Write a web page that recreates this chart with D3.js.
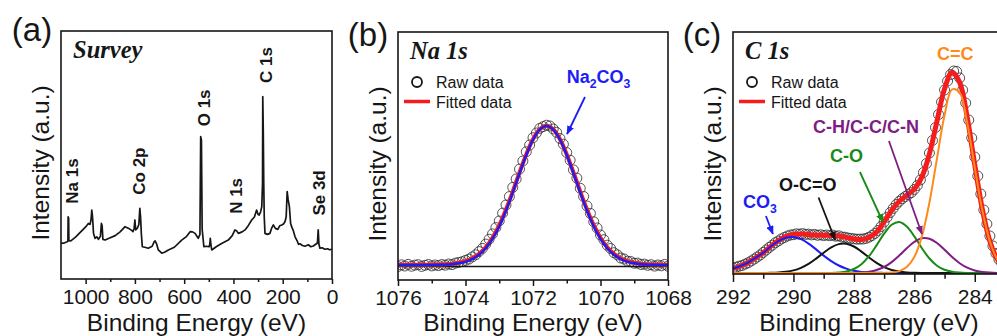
<!DOCTYPE html>
<html>
<head>
<meta charset="utf-8">
<script src="https://cdn.jsdelivr.net/npm/d3@7"></script>
<style>
body { margin: 0; background: #ffffff; }
svg { display: block; }
</style>
</head>
<body>
<svg id="chart" width="997" height="336"></svg>
<script>
// ---------- data ----------

// (a) survey spectrum
const surveyEnergy = [
    1100, 1085, 1075, 1072, 1071, 1069, 1068, 1060, 1040, 1020,
    1000, 989, 982, 978, 975, 972, 968, 962, 955, 948,
    940, 936, 933, 930, 921, 905, 880, 860, 840, 825,
    812, 808, 803, 800, 797, 790, 784, 780, 777, 774,
    770, 760, 746, 730, 722, 718, 712, 705, 691, 680,
    664, 640, 610, 590, 576, 566, 556, 543, 536, 533,
    530, 527, 520, 510, 499, 496, 494, 491, 488, 470,
    450, 421, 405, 394, 387, 380, 365, 353, 340, 326,
    315, 306, 300, 296, 290, 285, 282, 281, 279, 277,
    275, 272, 262, 252, 245, 238, 230, 220, 212, 204,
    197, 191, 186, 182, 178, 173, 168, 164, 157, 150,
    142, 136, 130, 120, 110, 96, 86, 76, 66, 59,
    56, 53, 49, 40, 29, 18, 10, 1, 0
];
const surveyIntensity = [
    14.4, 14.6, 15.0, 15.2, 25.1, 24.5, 15.5, 15.4, 17.0, 19.0,
    21.0, 22.4, 22.0, 24.0, 27.8, 25.0, 18.4, 16.4, 17.0, 16.0,
    17.2, 22.4, 21.5, 16.0, 15.7, 16.4, 17.5, 19.0, 21.1, 20.4,
    19.5, 19.1, 20.5, 23.8, 19.8, 20.5, 22.0, 28.5, 25.0, 18.4,
    13.0, 12.8, 12.4, 13.2, 15.0, 15.4, 14.2, 11.7, 10.4, 10.8,
    11.7, 12.8, 15.7, 17.2, 19.1, 19.0, 18.4, 16.4, 18.0, 57.4,
    56.0, 20.0, 13.0, 13.2, 13.0, 14.0, 16.4, 13.5, 11.7, 13.0,
    14.2, 15.7, 17.5, 19.8, 19.4, 18.4, 19.0, 19.8, 21.5, 23.8,
    25.0, 27.8, 26.0, 25.8, 27.0, 29.2, 38.6, 73.5, 60.0, 38.6,
    25.0, 18.4, 18.0, 18.4, 20.5, 21.8, 20.4, 20.0, 21.5, 21.8,
    22.2, 23.1, 25.0, 35.2, 32.0, 29.2, 22.5, 21.1, 19.5, 17.0,
    15.5, 14.0, 14.2, 13.5, 13.2, 13.8, 13.0, 13.3, 14.0, 14.5,
    19.8, 14.0, 12.4, 12.6, 12.0, 12.2, 11.8, 12.0, 12.0
];
const surveyPeakNames = ["Na 1s", "Co 2p", "O 1s", "N 1s", "C 1s", "Se 3d"];

// (b) Na 1s
const naRawEnergy = [
    1076, 1075.9, 1075.8, 1075.7, 1075.6, 1075.5, 1075.4, 1075.3, 1075.2, 1075.1,
    1075, 1074.9, 1074.8, 1074.7, 1074.6, 1074.5, 1074.4, 1074.3, 1074.2, 1074.1,
    1074, 1073.9, 1073.8, 1073.7, 1073.6, 1073.5, 1073.4, 1073.3, 1073.2, 1073.1,
    1073, 1072.9, 1072.8, 1072.7, 1072.6, 1072.5, 1072.4, 1072.3, 1072.2, 1072.1,
    1072, 1071.9, 1071.8, 1071.7, 1071.6, 1071.5, 1071.4, 1071.3, 1071.2, 1071.1,
    1071, 1070.9, 1070.8, 1070.7, 1070.6, 1070.5, 1070.4, 1070.3, 1070.2, 1070.1,
    1070, 1069.9, 1069.8, 1069.7, 1069.6, 1069.5, 1069.4, 1069.3, 1069.2, 1069.1,
    1069, 1068.9, 1068.8, 1068.7, 1068.6, 1068.5, 1068.4, 1068.3, 1068.2, 1068.1,
    1068
];
const naRawCounts = [
    13.5, 15.2, 14.0, 15.6, 13.8, 14.9, 15.3, 13.6, 14.7, 15.5,
    14.1, 15.0, 14.4, 15.4, 14.8, 16.0, 15.4, 16.9, 17.6, 18.3,
    19.6, 20.9, 23.1, 25.2, 28.4, 31.6, 35.9, 40.8, 46.1, 52.4,
    59.0, 66.9, 75.0, 83.4, 92.6, 101.0, 110.9, 119.0, 128.2, 135.0,
    142.3, 147.0, 151.6, 153.4, 154.8, 154.0, 151.0, 147.6, 141.5, 135.8,
    127.4, 119.8, 110.1, 101.9, 91.7, 83.5, 74.0, 66.6, 58.2, 52.0,
    45.0, 40.3, 34.8, 31.5, 27.3, 25.1, 22.0, 21.0, 18.8, 18.4,
    16.8, 16.9, 15.5, 15.9, 14.7, 15.3, 13.9, 15.0, 14.2, 15.6,
    13.8
];
const naFitEnergy = [
    1076, 1075.8, 1075.6, 1075.4, 1075.2, 1075, 1074.8, 1074.6, 1074.4, 1074.2,
    1074, 1073.8, 1073.6, 1073.4, 1073.2, 1073, 1072.8, 1072.6, 1072.4, 1072.2,
    1072, 1071.8, 1071.6, 1071.4, 1071.2, 1071, 1070.8, 1070.6, 1070.4, 1070.2,
    1070, 1069.8, 1069.6, 1069.4, 1069.2, 1069, 1068.8, 1068.6, 1068.4, 1068.2,
    1068
];
const naFitted = [
    15.3, 15.3, 15.3, 15.3, 15.3, 15.4, 15.5, 15.8, 16.3, 17.3,
    18.9, 21.7, 26.1, 32.7, 42.2, 54.8, 70.5, 88.4, 107.5, 125.6,
    140.8, 150.8, 154.2, 150.8, 140.8, 125.6, 107.5, 88.4, 70.5, 54.8,
    42.2, 32.7, 26.1, 21.7, 18.9, 17.3, 16.3, 15.8, 15.5, 15.4,
    15.3
];
const naCarbonate = [
    15.0, 15.0, 15.0, 15.0, 15.0, 15.1, 15.2, 15.4, 15.8, 16.7,
    18.2, 20.9, 25.2, 31.7, 41.1, 53.6, 69.3, 87.3, 106.5, 124.8,
    140.2, 150.4, 154.0, 150.4, 140.2, 124.8, 106.5, 87.3, 69.3, 53.6,
    41.1, 31.7, 25.2, 20.9, 18.2, 16.7, 15.8, 15.4, 15.2, 15.1,
    15.0
];
const naBackgroundEnergy = [1076, 1068];
const naBackground = [13.5, 13.5];

// (c) C 1s
const cRawEnergy = [
    292, 291.9, 291.8, 291.7, 291.6, 291.5, 291.4, 291.3, 291.2, 291.1,
    291, 290.9, 290.8, 290.7, 290.6, 290.5, 290.4, 290.3, 290.2, 290.1,
    290, 289.9, 289.8, 289.7, 289.6, 289.5, 289.4, 289.3, 289.2, 289.1,
    289, 288.9, 288.8, 288.7, 288.6, 288.5, 288.4, 288.3, 288.2, 288.1,
    288, 287.9, 287.8, 287.7, 287.6, 287.5, 287.4, 287.3, 287.2, 287.1,
    287, 286.9, 286.8, 286.7, 286.6, 286.5, 286.4, 286.3, 286.2, 286.1,
    286, 285.9, 285.8, 285.7, 285.6, 285.5, 285.4, 285.3, 285.2, 285.1,
    285, 284.9, 284.8, 284.7, 284.6, 284.5, 284.4, 284.3, 284.2, 284.1,
    284, 283.9, 283.8, 283.7, 283.6, 283.5, 283.4, 283.3, 283.2, 283.1,
    283, 282.9, 282.8, 282.7, 282.6, 282.5, 282.4, 282.3, 282.2, 282.1,
    282
];
const cRawCounts = [
    5.0, 5.8, 6.8, 7.5, 8.9, 10.2, 12.0, 13.9, 16.0, 18.0,
    20.6, 23.0, 25.6, 27.8, 30.3, 32.0, 34.1, 35.6, 37.0, 38.0,
    38.3, 39.2, 38.8, 39.4, 38.6, 38.9, 38.1, 38.6, 37.7, 38.2,
    37.4, 38.0, 37.3, 37.9, 36.8, 37.2, 36.0, 35.8, 35.0, 34.6,
    34.2, 33.8, 33.9, 34.0, 34.6, 35.8, 37.5, 39.6, 42.6, 46.5,
    51.0, 55.8, 60.4, 64.6, 68.5, 71.6, 74.3, 76.5, 78.4, 80.4,
    83.6, 87.5, 93.0, 100.5, 109.5, 120.0, 132.5, 145.5, 158.5, 171.0,
    183.0, 192.0, 198.5, 202.0, 201.5, 195.0, 183.0, 170.0, 153.0, 135.0,
    116.0, 97.0, 79.0, 63.0, 49.0, 37.0, 27.0, 19.5, 13.5, 9.5,
    6.5, 4.5, 3.2, 2.4, 1.8, 1.4, 1.2, 1.0, 0.9, 0.8,
    0.7
];
const cFitEnergy = [
    292, 291.75, 291.5, 291.25, 291, 290.75, 290.5, 290.25, 290, 289.75,
    289.5, 289.25, 289, 288.75, 288.5, 288.25, 288, 287.75, 287.5, 287.25,
    287, 286.75, 286.5, 286.25, 286, 285.75, 285.5, 285.25, 285, 284.75,
    284.5, 284.25, 284, 283.75, 283.5, 283.25, 283, 282.75, 282.5, 282.25,
    282
];
const cFitted = [
    4.5, 7.0, 10.5, 15.2, 20.3, 26.7, 32.3, 36.4, 38.5, 39.0,
    38.5, 38.0, 37.7, 37.6, 36.9, 35.6, 34.0, 33.5, 35.5, 40.9,
    51.3, 62.6, 71.7, 77.8, 83.9, 96.1, 119.2, 151.9, 184.2, 200.8,
    190.6, 155.5, 108.0, 63.8, 31.8, 13.5, 4.8, 1.5, 0.4, 0.1,
    0
];
const cNames = ["CO_3", "O-C=O", "C-O", "C-H/C-C/C-N", "C=C"];
const cCO3 = [
    4.5, 7.0, 10.5, 15.2, 20.3, 26.5, 31.8, 35.2, 35.9, 33.8,
    29.4, 23.6, 17.4, 11.9, 7.5, 4.4, 2.3, 1.1, 0.5, 0.2,
    0.1, 0, 0, 0, 0, 0, 0, 0, 0, 0,
    0, 0, 0, 0, 0, 0, 0, 0, 0, 0,
    0
];
const cOCO = [
    0, 0, 0, 0, 0, 0.2, 0.5, 1.2, 2.6, 5.2,
    9.1, 14.4, 20.3, 25.6, 28.9, 29.2, 26.5, 21.4, 15.5, 10.1,
    5.8, 3.0, 1.4, 0.6, 0.2, 0, 0, 0, 0, 0,
    0, 0, 0, 0, 0, 0, 0, 0, 0, 0,
    0
];
const cCO = [
    0, 0, 0, 0, 0, 0, 0, 0, 0, 0,
    0, 0, 0, 0.1, 0.5, 1.5, 4.0, 8.8, 16.8, 27.6,
    39.3, 48.2, 51.0, 46.5, 36.6, 24.8, 14.5, 7.3, 3.2, 1.2,
    0.4, 0.1, 0, 0, 0, 0, 0, 0, 0, 0,
    0
];
const cCH = [
    0, 0, 0, 0, 0, 0, 0, 0, 0, 0,
    0, 0, 0, 0, 0, 0, 0.2, 0.5, 1.3, 3.0,
    6.0, 10.9, 17.4, 24.7, 31.1, 34.7, 34.2, 30.0, 23.3, 16.0,
    9.8, 5.3, 2.5, 1.1, 0.4, 0.1, 0, 0, 0, 0,
    0
];
const cCC = [
    0, 0, 0, 0, 0, 0, 0, 0, 0, 0,
    0, 0, 0, 0, 0, 0, 0, 0, 0, 0,
    0.1, 0.5, 1.9, 6.0, 16.0, 36.6, 70.5, 114.6, 157.7, 183.6,
    180.4, 150.1, 105.5, 62.7, 31.4, 13.4, 4.8, 1.5, 0.4, 0.1,
    0
];

// ---------- drawing ----------

const FONT = "'Liberation Sans', Arial, Helvetica, sans-serif";
const SERIF = "'Liberation Serif', 'Times New Roman', Times, serif";
const INK = "#161616";
const BLUE = "#1c1cf5";
const RED = "#f41c1c";
const COMPONENT_COLORS = [BLUE, "#141414", "#188a18", "#7e1d84", "#ff8a1c"];

const svg = d3.select("#chart");
const defs = svg.append("defs");

function arrowMarker(color) {
    const id = "arrow" + color.replace("#", "");
    if (defs.select("#" + id).empty()) {
        defs.append("marker")
            .attr("id", id)
            .attr("viewBox", "0 0 10 8")
            .attr("refX", 9)
            .attr("refY", 4)
            .attr("markerWidth", 9)
            .attr("markerHeight", 7.2)
            .attr("markerUnits", "userSpaceOnUse")
            .attr("orient", "auto")
            .append("path")
            .attr("d", "M0,0 L10,4 L0,8 z")
            .attr("fill", color);
    }
    return `url(#${id})`;
}

// text with "_3" style subscripts
function addChemLabel(g, text, x, y, color, size) {
    const t = g.append("text")
        .attr("x", x)
        .attr("y", y)
        .attr("font-family", FONT)
        .attr("font-weight", "bold")
        .attr("font-size", size)
        .attr("fill", color);
    let sub = false;
    text.split(/(_\d)/).filter(s => s.length).forEach(s => {
        if (s[0] === "_") {
            t.append("tspan").text(s.slice(1))
                .attr("font-size", size * 0.68)
                .attr("dy", size * 0.26);
            sub = true;
        } else {
            t.append("tspan").text(s).attr("dy", sub ? -size * 0.26 : 0);
            sub = false;
        }
    });
    return t;
}

function makePanel(p) {
    const x = d3.scaleLinear().domain(p.xDomain).range([p.left, p.right]);
    const y = d3.scaleLinear().domain(p.yDomain).range([p.bottom, p.top]);

    defs.append("clipPath").attr("id", "clip-" + p.id)
        .append("rect")
        .attr("x", p.left).attr("y", p.top)
        .attr("width", p.right - p.left).attr("height", p.bottom - p.top);

    const g = svg.append("g");
    const plot = g.append("g").attr("clip-path", `url(#clip-${p.id})`);
    const over = g.append("g");

    // frame
    over.append("rect")
        .attr("x", p.left).attr("y", p.top)
        .attr("width", p.right - p.left).attr("height", p.bottom - p.top)
        .attr("fill", "none")
        .attr("stroke", INK)
        .attr("stroke-width", 1.6);

    // ticks, major + minor
    const major = over.append("g")
        .attr("transform", `translate(0,${p.bottom})`)
        .call(d3.axisBottom(x).tickValues(p.majors).tickSize(p.tick).tickPadding(p.pad).tickFormat(d3.format("d")));
    const minor = over.append("g")
        .attr("transform", `translate(0,${p.bottom})`)
        .call(d3.axisBottom(x).tickValues(p.minors).tickSize(p.tick * 0.6).tickFormat(""));
    [major, minor].forEach(a => {
        a.select(".domain").remove();
        a.selectAll("line").attr("stroke", INK).attr("stroke-width", 1.5);
    });
    major.selectAll("text")
        .attr("font-family", FONT)
        .attr("font-size", 21)
        .attr("fill", INK);

    // axis titles
    over.append("text")
        .attr("x", (p.left + p.right) / 2)
        .attr("y", 331)
        .attr("text-anchor", "middle")
        .attr("font-family", FONT)
        .attr("font-size", 24.5)
        .attr("fill", INK)
        .text("Binding Energy (eV)");
    over.append("text")
        .attr("transform", `translate(${p.left - 12},${p.yTitleY}) rotate(-90)`)
        .attr("text-anchor", "middle")
        .attr("font-family", FONT)
        .attr("font-size", 24.5)
        .attr("fill", INK)
        .text("Intensity (a.u.)");

    // panel letter
    over.append("text")
        .attr("x", p.letterX)
        .attr("y", p.letterY)
        .attr("text-anchor", "middle")
        .attr("font-family", FONT)
        .attr("font-size", 33)
        .attr("fill", INK)
        .text(p.letter);

    // spectrum name
    over.append("text")
        .attr("x", p.left + 12)
        .attr("y", p.top + 27)
        .attr("font-family", SERIF)
        .attr("font-weight", "bold")
        .attr("font-style", "italic")
        .attr("font-size", 24.5)
        .attr("fill", INK)
        .text(p.name);

    return { x, y, plot, over, p };
}

function addLegend(panel) {
    const { over, p } = panel;
    const lg = over.append("g").attr("transform", `translate(${p.left},${p.top})`);
    lg.append("circle")
        .attr("cx", 19).attr("cy", 50).attr("r", 5)
        .attr("fill", "none").attr("stroke", INK).attr("stroke-width", 1.8);
    lg.append("text")
        .attr("x", 38).attr("y", 55.5)
        .attr("font-family", FONT).attr("font-size", 16).attr("fill", INK)
        .text("Raw data");
    lg.append("line")
        .attr("x1", 6).attr("x2", 32).attr("y1", 69.5).attr("y2", 69.5)
        .attr("stroke", RED).attr("stroke-width", 3.5);
    lg.append("text")
        .attr("x", 38).attr("y", 76)
        .attr("font-family", FONT).attr("font-size", 16).attr("fill", INK)
        .text("Fitted data");
}

function drawRaw(panel, energy, counts) {
    panel.plot.append("g")
        .selectAll("circle")
        .data(energy)
        .enter()
        .append("circle")
        .attr("cx", d => panel.x(d))
        .attr("cy", (d, i) => panel.y(counts[i]))
        .attr("r", 5)
        .attr("fill", "none")
        .attr("stroke", "#2a2a2a")
        .attr("stroke-width", 0.8);
}

function drawLine(panel, energy, values, color, width) {
    const line = d3.line()
        .x(d => panel.x(d))
        .y((d, i) => panel.y(values[i]))
        .curve(d3.curveCatmullRom.alpha(0.5));
    panel.plot.append("path")
        .attr("d", line(energy))
        .attr("fill", "none")
        .attr("stroke", color)
        .attr("stroke-width", width)
        .attr("stroke-linejoin", "round");
}

function drawArrow(panel, from, to, color) {
    panel.over.append("line")
        .attr("x1", panel.x(from[0])).attr("y1", panel.y(from[1]))
        .attr("x2", panel.x(to[0])).attr("y2", panel.y(to[1]))
        .attr("stroke", color)
        .attr("stroke-width", 1.8)
        .attr("marker-end", arrowMarker(color));
}

// (a) survey
function plotSurvey() {
    const panel = makePanel({
        id: "a", left: 61, right: 332, top: 31, bottom: 279,
        xDomain: [1100, 0], yDomain: [0, 100],
        majors: [1000, 800, 600, 400, 200, 0], minors: [900, 700, 500, 300, 100],
        tick: 5, pad: 5, yTitleY: 163,
        letter: "(a)", letterX: 32, letterY: 41, name: "Survey"
    });
    const line = d3.line()
        .x(d => panel.x(d))
        .y((d, i) => panel.y(surveyIntensity[i]));
    panel.plot.append("path")
        .attr("d", line(surveyEnergy))
        .attr("fill", "none")
        .attr("stroke", INK)
        .attr("stroke-width", 1.7)
        .attr("stroke-linejoin", "round");

    // peak labels (energy of label baseline, height of label centre)
    const labelEnergy = [1031, 759, 495, 365, 244, 29];
    const labelHeight = [39.5, 43.5, 69, 33.5, 86.3, 34.7];
    surveyPeakNames.forEach((name, i) => {
        panel.over.append("text")
            .attr("transform", `translate(${panel.x(labelEnergy[i])},${panel.y(labelHeight[i])}) rotate(-90)`)
            .attr("text-anchor", "middle")
            .attr("font-family", FONT)
            .attr("font-weight", "bold")
            .attr("font-size", 17)
            .attr("fill", INK)
            .text(name);
    });
}

// (b) Na 1s
function plotNa() {
    const panel = makePanel({
        id: "b", left: 398, right: 668, top: 32, bottom: 280,
        xDomain: [1076, 1068], yDomain: [0, 248],
        majors: [1076, 1074, 1072, 1070, 1068], minors: [1075, 1073, 1071, 1069],
        tick: 6, pad: 4, yTitleY: 164,
        letter: "(b)", letterX: 368, letterY: 46, name: "Na 1s"
    });
    drawRaw(panel, naRawEnergy, naRawCounts);
    drawLine(panel, naBackgroundEnergy, naBackground, INK, 1.5);
    drawLine(panel, naFitEnergy, naFitted, RED, 4);
    drawLine(panel, naFitEnergy, naCarbonate, BLUE, 2.4);
    addLegend(panel);
    addChemLabel(panel.over, "Na_2CO_3", panel.x(1071.0), panel.y(197), BLUE, 18);
    drawArrow(panel, [1070.46, 183], [1070.99, 146], BLUE);
}

// (c) C 1s
function plotC() {
    const panel = makePanel({
        id: "c", left: 733, right: 1005, top: 32, bottom: 274,
        xDomain: [292, 283], yDomain: [-1, 241],
        majors: [292, 290, 288, 286, 284], minors: [291, 289, 287, 285, 283],
        tick: 8, pad: 7, yTitleY: 164,
        letter: "(c)", letterX: 702, letterY: 46, name: "C 1s"
    });
    drawRaw(panel, cRawEnergy, cRawCounts);
    drawLine(panel, cFitEnergy, cFitted, RED, 5);
    [cCO3, cOCO, cCO, cCH, cCC].forEach((vals, i) => {
        drawLine(panel, cFitEnergy, vals, COMPONENT_COLORS[i], 2);
    });
    addLegend(panel);

    // annotation text positions and arrows, in data units
    const labelAt = [[291.67, 65], [290.48, 82.5], [288.79, 111.5], [289.35, 140], [285.25, 213]];
    const arrows = [
        [[290.91, 57], [290.68, 39]],
        [[289.17, 75.5], [288.62, 33]],
        [[287.80, 101], [287.04, 51]],
        [[286.84, 132], [285.75, 39]],
        null
    ];
    cNames.forEach((name, i) => {
        addChemLabel(panel.over, name, panel.x(labelAt[i][0]), panel.y(labelAt[i][1]), COMPONENT_COLORS[i], 18);
        if (arrows[i]) drawArrow(panel, arrows[i][0], arrows[i][1], COMPONENT_COLORS[i]);
    });
}

plotSurvey();
plotNa();
plotC();
</script>
</body>
</html>
